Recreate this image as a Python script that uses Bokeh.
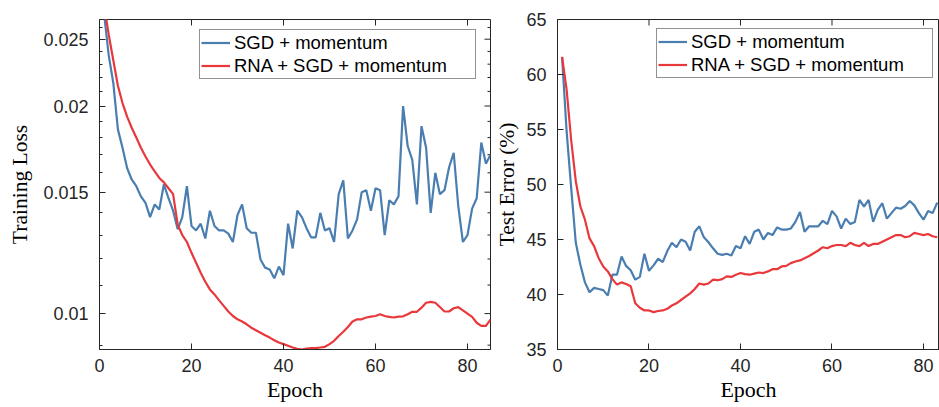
import math
from bokeh.plotting import figure
from bokeh.layouts import row
from bokeh.models import FixedTicker, Legend, LegendItem, Range1d
from bokeh.embed import file_html
from bokeh.resources import INLINE

# ---------------- data ----------------
epochs_loss = list(range(1, 86))
sgd_loss = [0.0272, 0.0237, 0.0216, 0.0185, 0.0174, 0.01626, 0.01565, 0.0153, 0.01479, 0.01447,
            0.0138, 0.0144, 0.01416, 0.0154, 0.0147, 0.0141, 0.01325, 0.0138, 0.0153, 0.0134,
            0.0132, 0.0135, 0.01285, 0.0141, 0.0134, 0.0132, 0.0132, 0.01306, 0.0127, 0.0139,
            0.0144, 0.0133, 0.0131, 0.0131, 0.01198, 0.01166, 0.01159, 0.01125, 0.0117, 0.01137,
            0.0135, 0.01243, 0.0141, 0.0138, 0.0133, 0.0129, 0.0129, 0.0140, 0.0132, 0.0133,
            0.0127, 0.0149, 0.0156, 0.01285, 0.0132, 0.0137, 0.0150, 0.0151, 0.0141, 0.0152,
            0.0151, 0.0130, 0.0146, 0.0144, 0.0148, 0.0200, 0.0175, 0.0167, 0.0144, 0.0187,
            0.0174, 0.0140, 0.0160, 0.0149, 0.0151, 0.0163, 0.0171, 0.0143, 0.0127, 0.0130,
            0.0142, 0.0147, 0.0177, 0.0165, 0.0170]
rna_loss = [0.0280, 0.0254, 0.0233, 0.0214, 0.0202, 0.0193, 0.0186, 0.0180, 0.0174, 0.0169,
            0.01645, 0.01608, 0.01573, 0.0155, 0.0152, 0.0149, 0.01346, 0.0130, 0.0127, 0.01225,
            0.01185, 0.01146, 0.01112, 0.01084, 0.01066, 0.01045, 0.01026, 0.01007, 0.00992, 0.00981,
            0.00974, 0.00965, 0.00954, 0.00946, 0.00938, 0.00930, 0.00923, 0.00915, 0.00908, 0.00903,
            0.00898, 0.00893, 0.00889, 0.00887, 0.0089, 0.00891, 0.00891, 0.00893, 0.00895, 0.00903,
            0.00913, 0.00928, 0.00941, 0.00956, 0.00974, 0.00981, 0.00981, 0.00987, 0.0099, 0.00992,
            0.00998, 0.00992, 0.00989, 0.00987, 0.0099, 0.00991, 0.00998, 0.01006, 0.01006, 0.0102,
            0.01037, 0.0104, 0.01037, 0.01022, 0.01007, 0.01007, 0.01018, 0.01022, 0.01011, 0.0100,
            0.00989, 0.0097, 0.0096, 0.0096, 0.0098]

epochs_err = list(range(1, 84))
sgd_err = [61.6, 54.8, 49.65, 44.7, 42.7, 41.1, 40.2, 40.6, 40.5, 40.4,
           39.9, 41.8, 41.8, 43.45, 42.6, 42.2, 41.35, 41.6, 43.7, 42.15,
           42.65, 43.25, 42.95, 43.95, 44.7, 44.3, 45.0, 44.8, 44.0, 45.7,
           46.2, 45.2, 44.75, 44.2, 43.7, 43.6, 43.7, 43.55, 44.4, 44.2,
           45.3, 44.6, 45.7, 45.9, 45.0, 45.6, 45.4, 46.1, 45.9, 45.9,
           46.0, 46.6, 47.5, 45.7, 46.2, 46.2, 46.2, 46.7, 46.4, 47.6,
           47.1, 46.0, 46.9, 46.4, 46.6, 48.6, 48.0, 48.6, 46.6, 47.7,
           48.3, 46.9, 47.4, 47.9, 47.8, 48.05, 48.5, 48.1, 47.4, 46.8,
           47.6, 47.4, 48.35]
rna_err = [61.6, 58.6, 54.0, 50.3, 48.0, 46.8, 45.1, 44.4, 43.3, 42.55,
           42.1, 41.4, 40.9, 41.1, 40.95, 40.75, 39.2, 38.8, 38.55, 38.55,
           38.4, 38.5, 38.55, 38.7, 39.0, 39.2, 39.5, 39.8, 40.1, 40.5,
           41.0, 40.9, 41.0, 41.35, 41.3, 41.4, 41.65, 41.6, 41.8, 41.95,
           41.85, 41.8, 41.9, 42.0, 41.95, 42.1, 42.3, 42.3, 42.55, 42.6,
           42.85, 43.0, 43.1, 43.3, 43.5, 43.75, 44.0, 44.3, 44.2, 44.4,
           44.5, 44.5, 44.4, 44.7, 44.5, 44.4, 44.7, 44.4, 44.6, 44.6,
           44.8, 45.0, 45.2, 45.4, 45.4, 45.2, 45.3, 45.6, 45.5, 45.4,
           45.5, 45.3, 45.2]

x_ticks = [0, 20, 40, 60, 80]
loss_ticks = [0.01, 0.015, 0.02, 0.025]
loss_tick_labels = ["0.01", "0.015", "0.02", "0.025"]
loss_minor_ticks = [0.009, 0.011, 0.012, 0.013, 0.014, 0.016, 0.017, 0.018, 0.019,
                    0.021, 0.022, 0.023, 0.024, 0.026]
err_ticks = [35, 40, 45, 50, 55, 60, 65]

series_names = ["SGD + momentum", "RNA + SGD + momentum"]

# ---------------- style ----------------
AX = "#262626"
BLUE = "#4A7EB0"
RED = "#E9383C"
TICK_FONT = "Liberation Sans"
LABEL_FONT = "Liberation Serif"


def style_axis(ax, label_size, label_standoff, tick_standoff=11):
    ax.axis_line_color = AX
    ax.major_tick_line_color = AX
    ax.minor_tick_line_color = AX
    ax.major_tick_in = 6
    ax.major_tick_out = 0
    ax.minor_tick_in = 3
    ax.minor_tick_out = 0
    ax.major_label_text_font = TICK_FONT
    ax.major_label_text_font_size = "18px"
    ax.major_label_text_color = AX
    ax.major_label_standoff = tick_standoff
    ax.axis_label_text_font = LABEL_FONT
    ax.axis_label_text_font_size = label_size
    ax.axis_label_text_font_style = "normal"
    ax.axis_label_text_color = "black"
    ax.axis_label_standoff = label_standoff


def mirror_ticks_x(p, ticks, y_edge):
    # inward ticks on the top edge (clipped to frame -> only inner half shows)
    p.scatter(ticks, [y_edge] * len(ticks), marker="dash", angle=math.pi / 2,
              size=12, line_color=AX, line_width=1)


def mirror_ticks_y(p, ticks, minor, x_edge):
    p.scatter([x_edge] * len(ticks), ticks, marker="dash", size=12,
              line_color=AX, line_width=1)
    if minor:
        p.scatter([x_edge] * len(minor), minor, marker="dash", size=6,
                  line_color=AX, line_width=1)


def make_legend(p, r1, r2, loc):
    leg = Legend(items=[LegendItem(label=series_names[0], renderers=[r1]),
                        LegendItem(label=series_names[1], renderers=[r2])],
                 location=loc)
    leg.label_text_font = TICK_FONT
    leg.label_text_font_size = "18.5px"
    leg.label_text_color = "black"
    leg.border_line_color = AX
    leg.border_line_width = 1
    leg.background_fill_color = "white"
    leg.background_fill_alpha = 1.0
    leg.padding = 1
    leg.spacing = 0
    leg.margin = 0
    leg.glyph_width = 29
    leg.glyph_height = 23
    leg.label_height = 23
    leg.label_standoff = 4
    leg.label_width = 240
    p.add_layout(leg)


# ---------------- left: training loss ----------------
x1 = (0, 85)
y1 = (0.00887, 0.0267)
p1 = figure(width=492, height=407, y_axis_type="log",
            x_range=Range1d(*x1), y_range=Range1d(*y1),
            min_border_left=99, min_border_right=2, min_border_top=18, min_border_bottom=58,
            output_backend="svg", toolbar_location=None)
p1.grid.visible = False
p1.outline_line_color = AX
p1.background_fill_color = "white"
p1.border_fill_color = "white"

p1.xaxis.ticker = FixedTicker(ticks=x_ticks)
p1.yaxis.ticker = FixedTicker(ticks=loss_ticks, minor_ticks=loss_minor_ticks)
p1.yaxis.major_label_overrides = dict(zip(loss_ticks, loss_tick_labels))
p1.xaxis.axis_label = "Epoch"
p1.yaxis.axis_label = "Training Loss"
style_axis(p1.xaxis[0], "22px", 2, 9)
style_axis(p1.yaxis[0], "21.5px", 8)

mirror_ticks_x(p1, x_ticks, y1[1])
mirror_ticks_y(p1, loss_ticks, loss_minor_ticks, x1[1])

ra = p1.line(epochs_loss, sgd_loss, line_color=BLUE, line_width=2.2)
rb = p1.line(epochs_loss, rna_loss, line_color=RED, line_width=2.2)
make_legend(p1, ra, rb, (100, 270))

# ---------------- right: test error ----------------
x2 = (0, 83.5)
y2 = (35, 65)
p2 = figure(width=447, height=407,
            x_range=Range1d(*x2), y_range=Range1d(*y2),
            min_border_left=65, min_border_right=0, min_border_top=19, min_border_bottom=57,
            output_backend="svg", toolbar_location=None)
p2.grid.visible = False
p2.outline_line_color = AX
p2.background_fill_color = "white"
p2.border_fill_color = "white"

p2.xaxis.ticker = FixedTicker(ticks=x_ticks)
p2.yaxis.ticker = FixedTicker(ticks=err_ticks)
p2.xaxis.axis_label = "Epoch"
p2.yaxis.axis_label = "Test Error (%)"
style_axis(p2.xaxis[0], "22px", 2, 9)
style_axis(p2.yaxis[0], "21.5px", 4)

mirror_ticks_x(p2, x_ticks, y2[1])

rc = p2.line(epochs_err, sgd_err, line_color=BLUE, line_width=2.2)
rd = p2.line(epochs_err, rna_err, line_color=RED, line_width=2.2)
make_legend(p2, rc, rd, (99, 271))

layout = row(p1, p2)
open("out.html", "w").write(file_html(layout, INLINE))
